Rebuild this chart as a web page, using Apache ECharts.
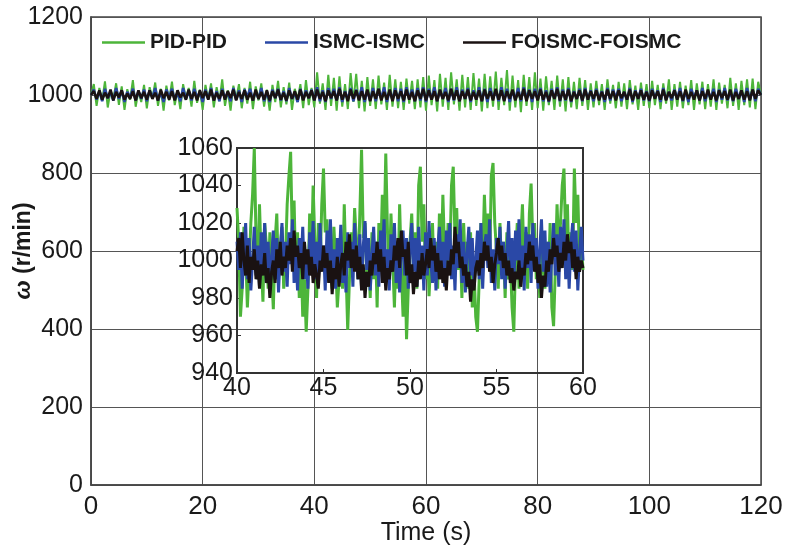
<!DOCTYPE html>
<html>
<head>
<meta charset="utf-8">
<script src="https://cdn.jsdelivr.net/npm/echarts@6/dist/echarts.min.js"></script>
<style>
html,body{margin:0;padding:0;background:#fff;}
#chart{width:786px;height:547px;}
</style>
</head>
<body>
<div id="chart"></div>
<script>
// Speed response of the three control schemes, sampled every 0.5 s over 0-120 s
const mainStart = 0, mainStep = 0.5;
const pidMain = [
1000,1028,972,1018,985,1035,968,1012,990,1030,975,1022,962,1015,988,1038,970,1010,982,1026,
966,1020,992,1032,972,1016,960,1024,986,1034,974,1012,964,1028,990,1018,970,1036,980,1014,
962,1026,988,1030,968,1020,984,1040,972,1012,960,1024,990,1028,966,1018,978,1034,964,1022,
986,1030,970,1014,960,1026,982,1036,968,1020,976,1032,962,1016,988,1028,966,1038,974,1018,
968,1058,978,1030,962,1052,972,1044,960,1048,970,1028,964,1056,982,1054,966,1036,958,1046,
972,1040,964,1050,976,1032,962,1052,970,1040,966,1034,962,1042,978,1036,964,1040,968,1046,
960,1050,974,1038,958,1054,970,1044,962,1058,976,1040,960,1052,968,1046,962,1056,972,1042,
958,1054,966,1048,970,1060,962,1044,974,1064,960,1050,968,1038,956,1052,972,1046,962,1058,
966,1042,960,1048,974,1036,962,1050,970,1040,958,1046,968,1034,964,1044,972,1038,962,1030,
968,1036,974,1028,962,1040,978,1026,966,1034,970,1030,964,1038,976,1024,962,1032,972,1028,
966,1036,974,1026,964,1030,978,1040,962,1028,970,1034,966,1024,974,1038,962,1030,976,1034,
964,1028,970,1040,962,1032,978,1026,966,1044,972,1030,962,1036,974,1040,968,1042,964,1034,
1000];
const ismcMain = [
1000,1014,988,1010,984,1016,992,1006,986,1018,990,1012,982,1008,994,1016,986,1010,990,1014,
984,1012,992,1018,986,1008,982,1014,994,1016,988,1006,984,1018,990,1010,986,1016,992,1008,
982,1014,990,1018,986,1010,984,1016,992,1006,984,1018,988,1012,982,1014,994,1016,986,1010,
990,1018,984,1008,982,1014,992,1016,986,1010,984,1018,990,1006,982,1016,988,1012,992,1014,
986,1020,984,1012,982,1018,990,1016,986,1020,982,1010,988,1018,984,1014,990,1020,982,1012,
986,1018,984,1016,990,1020,982,1012,988,1018,984,1016,982,1020,990,1014,984,1018,986,1020,
982,1016,988,1020,984,1012,990,1018,982,1016,986,1020,984,1014,990,1018,982,1012,988,1020,
984,1016,982,1018,990,1014,984,1020,986,1016,982,1012,988,1018,984,1020,990,1014,982,1016,
988,1018,984,1012,982,1016,990,1020,984,1014,986,1018,982,1010,990,1016,984,1018,988,1012,
984,1016,990,1010,982,1018,986,1014,992,1016,984,1008,988,1018,982,1012,990,1016,986,1010,
984,1016,992,1012,982,1018,988,1008,986,1014,990,1018,984,1010,982,1016,992,1012,986,1018,
984,1010,990,1016,982,1014,988,1018,986,1008,984,1016,990,1012,982,1018,988,1014,984,1016,
1000];
const foismcMain = [
1000,1010,990,1012,988,1006,992,1014,986,1008,994,1012,988,1004,990,1010,986,1012,992,1008,
988,1012,990,1006,986,1014,992,1008,988,1010,986,1012,994,1006,988,1014,990,1008,986,1012,
992,1010,988,1014,986,1006,990,1012,988,1010,992,1014,986,1008,990,1012,988,1006,986,1014,
990,1008,988,1012,986,1010,992,1014,988,1006,986,1012,990,1010,988,1014,986,1008,992,1012,
986,1014,990,1008,984,1012,992,1010,986,1016,988,1008,984,1014,990,1012,986,1010,988,1014,
984,1010,990,1016,986,1008,988,1014,984,1012,990,1010,986,1014,988,1008,984,1012,990,1016,
986,1012,988,1010,984,1014,990,1008,986,1016,988,1012,984,1010,990,1014,986,1008,988,1012,
984,1014,990,1010,986,1016,988,1012,984,1010,990,1014,986,1008,988,1016,984,1012,990,1010,
986,1014,988,1008,984,1012,990,1016,986,1010,988,1014,984,1008,990,1012,986,1014,988,1010,
990,1012,986,1008,988,1014,990,1010,986,1012,992,1008,988,1014,986,1010,990,1012,988,1008,
986,1012,990,1010,988,1014,986,1008,992,1012,988,1010,986,1014,990,1008,988,1012,986,1010,
990,1014,988,1008,986,1012,992,1010,988,1014,986,1008,990,1012,988,1010,986,1014,990,1012,
1000];

// Close-up of 40-60 s, sampled every 0.1 s
const zoomStart = 40, zoomStep = 0.1;
const pidZoom = [
1028,1010,970,985,1018,1005,975,996,1020,1035,
1060,1012,990,1030,1000,978,1020,1008,985,1015,
995,974,1010,1025,990,1005,1018,985,1000,1030,
1045,1058,1010,1032,990,1015,980,1005,970,990,
962,985,1025,1000,1040,1010,980,1020,995,1030,
1049,1015,1022,990,1005,985,1018,1000,975,990,
1010,985,1030,995,963,990,1015,1000,1028,1010,
990,1025,1059,1012,1020,992,1005,980,1015,990,
1010,975,1020,1000,1035,1010,1057,1015,990,1025,
1000,975,1010,985,1030,995,970,1005,958,985,
1010,1025,995,1015,985,1040,1050,1010,1030,990,
1015,981,1000,1020,990,1010,985,1025,995,1035,
1005,990,1020,1000,1040,1050,1012,1028,995,1010,
980,1020,995,1010,985,1015,975,995,970,962,
990,1020,1000,1035,1010,1025,995,1045,1052,1020,
1005,985,1020,995,1010,980,1015,990,1000,975,
962,1000,1020,985,1010,1030,995,1015,985,1025,
1041,1010,1020,990,1005,980,1015,995,985,1010,
990,1020,975,965,995,1030,1005,1020,1040,1049,
1010,1030,990,1015,995,1049,1020,1035,1000,1010,
995];
const ismcZoom = [
1010,995,1015,985,1005,1020,990,1012,984,1000,
1018,992,1008,986,1015,998,1020,988,1010,984,
1002,1016,990,1012,983,1005,1020,994,1010,986,
1015,998,1022,988,1006,984,1012,996,1018,990,
1004,985,1015,1000,1021,990,1010,986,1020,995,
1008,984,1016,1000,1022,992,1006,985,1012,998,
1019,988,1004,983,1015,996,1010,986,1020,1000,
990,1014,985,1008,1021,995,1012,984,1003,1018,
992,1010,986,1016,1000,1022,990,1006,984,1014,
998,1020,988,1010,983,1004,1016,992,1012,985,
1006,1020,994,1012,986,1018,998,1008,984,1015,
992,1021,1000,988,1012,984,1006,1018,995,1010,
986,1016,1000,1020,990,1008,984,1014,996,1022,
988,1010,983,1004,1018,992,1012,986,1000,1016,
990,1020,985,1008,1014,996,1022,988,1006,984,
1012,998,1018,990,1010,985,1004,1021,994,1012,
986,1016,1000,1022,990,1008,984,1018,996,1014,
988,1020,1002,1012,985,1006,1022,994,1016,986,
1010,983,1004,1020,992,1014,986,1018,1000,1022,
990,1012,985,1008,1020,994,1016,984,1004,1018,
1000];
const foismcZoom = [
1005,1012,996,1015,1000,992,1008,988,1002,995,
1006,990,1000,985,998,992,1004,988,996,980,
994,1000,988,1006,996,1010,992,1002,996,1008,
1000,1012,994,1016,1002,1008,996,1004,990,1010,
998,1006,992,1002,988,998,992,985,1000,994,
1008,996,1004,988,1000,982,996,990,1002,986,
998,1004,992,1010,1000,1014,996,1006,994,1008,
990,1002,984,998,980,994,986,1000,992,1004,
998,1010,994,1006,988,1002,984,996,990,1000,
994,1008,1000,1012,996,1016,1002,1006,992,1010,
988,998,982,994,986,1000,990,1004,992,998,
1006,996,1012,1000,1008,994,1004,990,1000,988,
996,984,1000,992,1006,998,1018,1004,1010,996,
1002,992,998,986,994,978,990,984,996,1000,
992,1004,996,1010,1000,1008,994,1002,988,998,
1004,1012,1000,1008,996,1004,992,1000,988,996,
984,994,990,1000,986,996,992,1004,998,1010,
1000,1008,994,1002,988,998,980,992,986,1000,
994,1006,998,1012,1002,1008,994,1004,996,1010,
1000,1014,1004,1010,996,1006,990,1002,994,1000,
996];

const seriesNames = ['PID-PID', 'ISMC-ISMC', 'FOISMC-FOISMC'];
const seriesColors = ['#4db53a', '#2a48a6', '#1a1212'];
const mainWidths = [2, 2.6, 2.6];

function pairs(values, start, step) {
  return values.map((v, i) => [+(start + i * step).toFixed(2), v]);
}
const plain = v => String(v);

const mainSets = [pidMain, ismcMain, foismcMain];
const zoomSets = [pidZoom, ismcZoom, foismcZoom];

const textColor = '#1a1a1a';
const font = 'Liberation Sans, Arial, sans-serif';

const series = [];
mainSets.forEach((vals, k) => {
  series.push({
    name: seriesNames[k], type: 'line', xAxisIndex: 0, yAxisIndex: 0,
    data: pairs(vals, mainStart, mainStep), showSymbol: false, symbol: 'none',
    lineStyle: { color: seriesColors[k], width: mainWidths[k] }, itemStyle: { color: seriesColors[k] },
    z: 2 + k
  });
});
zoomSets.forEach((vals, k) => {
  series.push({
    name: seriesNames[k], type: 'line', xAxisIndex: 1, yAxisIndex: 1,
    data: pairs(vals, zoomStart, zoomStep), showSymbol: false, symbol: 'none',
    lineStyle: { color: seriesColors[k], width: 3 }, itemStyle: { color: seriesColors[k] },
    z: 6 + k
  });
});

const chart = echarts.init(document.getElementById('chart'), null, { renderer: 'canvas' });
chart.setOption({
  animation: false,
  backgroundColor: '#ffffff',
  textStyle: { fontFamily: font },
  legend: {
    data: seriesNames,
    left: 97, top: 27,
    icon: 'rect',
    itemWidth: 43, itemHeight: 2.5, itemGap: 38,
    textStyle: { fontSize: 21, fontWeight: 'bold', color: textColor, fontFamily: font }
  },
  grid: [
    { left: 91, right: 25, top: 17, bottom: 62, show: true, borderColor: '#444', borderWidth: 1.5,
      backgroundColor: 'transparent', outerBoundsMode: 'none', containLabel: false },
    { left: 237, top: 148, width: 346, height: 225, show: true, borderColor: '#333', borderWidth: 2,
      backgroundColor: 'transparent', z: 5, outerBoundsMode: 'none', containLabel: false }
  ],
  xAxis: [
    {
      type: 'value', gridIndex: 0, min: 0, max: 120, interval: 20,
      name: 'Time (s)', nameLocation: 'middle', nameGap: 36, nameMoveOverlap: false,
      nameTextStyle: { fontSize: 25, color: textColor, fontFamily: font },
      axisLine: { show: true, lineStyle: { color: '#444', width: 1.5 } },
      axisTick: { show: false },
      axisLabel: { fontSize: 26, color: textColor, margin: 9, fontFamily: font, formatter: plain },
      splitLine: { show: true, lineStyle: { color: '#555', width: 1 } }
    },
    {
      type: 'value', gridIndex: 1, min: 40, max: 60, interval: 5,
      axisLine: { show: true, lineStyle: { color: '#333', width: 2 } },
      axisTick: { show: true, inside: true, length: 4, lineStyle: { color: '#333' } },
      axisLabel: { fontSize: 25, color: textColor, margin: 3, fontFamily: font, formatter: plain },
      splitLine: { show: false }, z: 5
    }
  ],
  yAxis: [
    {
      type: 'value', gridIndex: 0, min: 0, max: 1200, interval: 200,
      name: '{i|ω} (r/min)', nameLocation: 'middle', nameGap: 56, nameRotate: 90, nameMoveOverlap: false,
      nameTextStyle: {
        fontSize: 23, fontWeight: 'bold', color: textColor, fontFamily: font,
        rich: { i: { fontSize: 23, fontStyle: 'italic', fontWeight: 'bold', color: textColor, fontFamily: font } }
      },
      axisLine: { show: true, lineStyle: { color: '#444', width: 1.5 } },
      axisTick: { show: false },
      axisLabel: { fontSize: 25, color: textColor, margin: 8, fontFamily: font, formatter: plain },
      splitLine: { show: true, lineStyle: { color: '#555', width: 1 } }
    },
    {
      type: 'value', gridIndex: 1, min: 940, max: 1060, interval: 20,
      axisLine: { show: true, lineStyle: { color: '#333', width: 2 } },
      axisTick: { show: true, inside: true, length: 4, lineStyle: { color: '#333' } },
      axisLabel: { fontSize: 25, color: textColor, margin: 4, fontFamily: font, formatter: plain },
      splitLine: { show: false }, z: 5
    }
  ],
  series: series
});
</script>
</body>
</html>
